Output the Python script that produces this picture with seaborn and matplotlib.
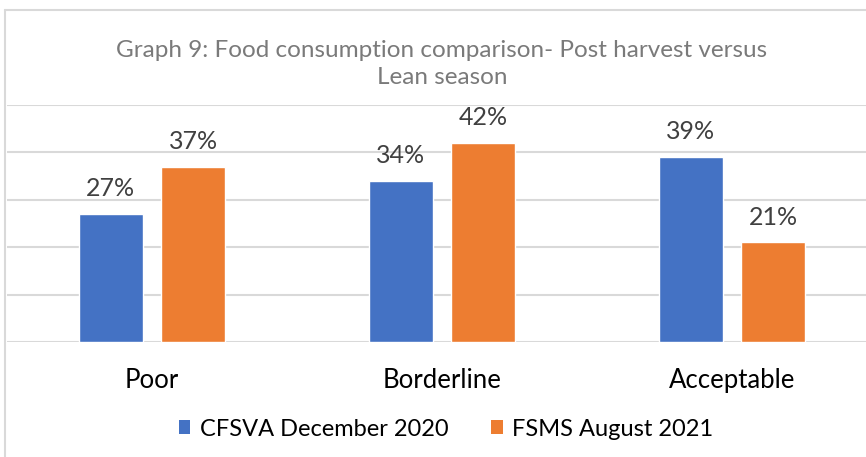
import matplotlib
matplotlib.use("Agg")
import matplotlib.pyplot as plt
import seaborn as sns
import pandas as pd
from matplotlib.lines import Line2D
from matplotlib.patches import Patch

categories = ["Poor", "Borderline", "Acceptable"]
series_names = ["CFSVA December 2020", "FSMS August 2021"]
cfsva = [27, 34, 39]
fsms = [37, 42, 21]
colors = ["#4472C4", "#ED7D31"]
title = "Graph 9: Food consumption comparison- Post harvest versus\nLean season"

df = pd.DataFrame({
    "category": categories * 2,
    "series": [series_names[0]] * len(categories) + [series_names[1]] * len(categories),
    "value": cfsva + fsms,
})

sns.set_theme(style="white")
plt.rcParams["font.family"] = ["Lato", "DejaVu Sans"]

W, H = 866, 457
fig = plt.figure(figsize=(W / 100, H / 100), dpi=100)
ax = fig.add_axes([7 / W, (H - 342) / H, 870 / W, 237 / H])
sns.barplot(data=df, x="category", y="value", hue="series", palette=colors,
            width=0.572, gap=0.229, saturation=1, legend=False, ax=ax)
ax.set_ylim(0, 50)
ax.set_xlim(-0.5, 2.5)
ax.set_yticks(range(0, 51, 10))
ax.yaxis.grid(True, color="#d9d9d9", lw=1.5)
ax.set_axisbelow(True)
for s in ax.spines.values():
    s.set_visible(False)
ax.tick_params(axis="y", left=False, labelleft=False)
ax.tick_params(axis="x", bottom=False, labelsize=18.5, labelcolor="black", pad=13)
ax.set_xlabel("")
ax.set_ylabel("")
for cont in ax.containers:
    ax.bar_label(cont, labels=[f"{v:.0f}%" for v in cont.datavalues],
                 padding=10, fontsize=18, color="#404040")

fig.text(442 / W, 1 - 64 / H, title, ha="center", va="center", fontsize=17.5,
         color="#7a7a7a", linespacing=1.35)

handles = [Patch(facecolor=c, edgecolor="none") for c in colors]
fig.legend(handles, series_names, loc="center", bbox_to_anchor=(446 / W, 28 / H),
           ncol=2, frameon=False, fontsize=17, handlelength=0.5, handleheight=0.5,
           handletextpad=0.4, columnspacing=1.8, labelcolor="black")

fig.add_artist(Line2D([5 / W, 5 / W], [0, 1 - 10 / H], color="#d9d9d9", lw=1.5))
fig.add_artist(Line2D([5 / W, 1], [1 - 10 / H, 1 - 10 / H], color="#d9d9d9", lw=1.5))

fig.savefig("out.png", dpi=100, facecolor="white")
